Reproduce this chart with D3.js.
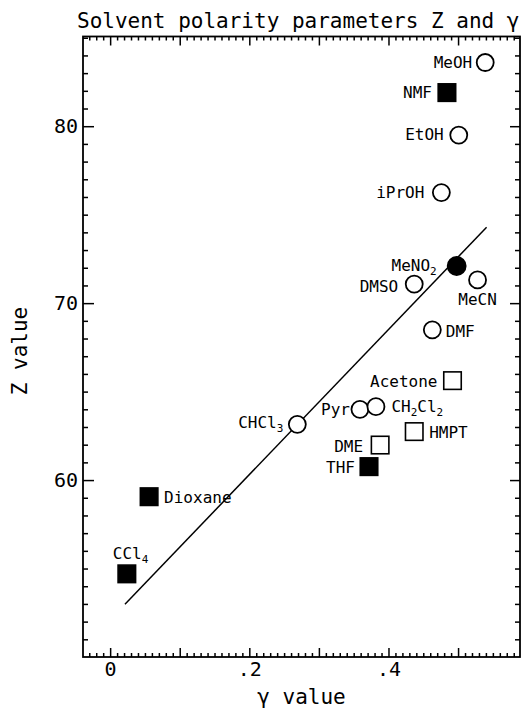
<!DOCTYPE html>
<html>
<head>
<meta charset="utf-8">
<script src="https://cdn.jsdelivr.net/npm/d3@7"></script>
<style>
  html, body { margin: 0; padding: 0; background: #fff; }
  svg { display: block; }
  text { font-family: "DejaVu Sans Mono", "Liberation Mono", monospace; fill: #000; }
</style>
</head>
<body>
<script>
// ---- data ----
const solvents = ["MeOH","NMF","EtOH","iPrOH","MeNO2","DMSO","MeCN","DMF","Acetone","Pyr","CH2Cl2","HMPT","DME","THF","CHCl3","Dioxane","CCl4"];
const labelText = ["MeOH","NMF","EtOH","iPrOH","MeNO_2","DMSO","MeCN","DMF","Acetone","Pyr","CH_2Cl_2","HMPT","DME","THF","CHCl_3","Dioxane","CCl_4"];
const gammaValues = [0.539,0.484,0.501,0.476,0.498,0.437,0.528,0.463,0.492,0.359,0.382,0.437,0.388,0.372,0.269,0.056,0.024];
const zValues     = [83.6, 81.9, 79.5, 76.25,72.1, 71.08,71.31,68.49,65.62,64.0, 64.15,62.74,61.98,60.76,63.15,59.06,54.7];
const symbols     = ["openCircle","filledSquare","openCircle","openCircle","filledCircle","openCircle","openCircle","openCircle","openSquare","openCircle","openCircle","openSquare","openSquare","filledSquare","openCircle","filledSquare","filledSquare"];
const fitGamma = [0.0213, 0.541];
const fitZ     = [52.98, 74.29];
const xMajorTicks = [0, 0.1, 0.2, 0.3, 0.4, 0.5];
const xTickLabels = [0, 0.2, 0.4];
const yMajorTicks = [60, 70, 80];
const yTickLabels = [60, 70, 80];
const titleText = "Solvent polarity parameters Z and \u03b3";
const xAxisTitle = "\u03b3 value";
const yAxisTitle = "Z value";

// ---- layout ----
const W = 522, H = 709;
const plot = { left: 83, right: 520, top: 36.5, bottom: 657 };
// label placement: [dx, dy, anchor]
const labelLayout = {
  MeOH: [-13, 5, "end"], NMF: [-15, 5.5, "end"], EtOH: [-15, 5, "end"], iPrOH: [-17, 5.5, "end"],
  MeNO2: [-20, 5.5, "end"], DMSO: [-16, 7.5, "end"], MeCN: [0, 25, "middle"], DMF: [13.5, 7, "start"],
  Acetone: [-15, 6, "end"], Pyr: [-10, 5.5, "end"], CH2Cl2: [15.5, 5, "start"], HMPT: [15, 6.5, "start"],
  DME: [-17, 6.5, "end"], THF: [-14, 6.5, "end"], CHCl3: [-14, 4, "end"], Dioxane: [15, 6, "start"],
  CCl4: [-14, -15, "start"]
};

const svg = d3.select("body").append("svg").attr("width", W).attr("height", H);
svg.append("rect").attr("width", W).attr("height", H).attr("fill", "#fff");

const x = d3.scaleLinear().domain([-0.039, 0.589]).range([plot.left, plot.right]);
const y = d3.scaleLinear().domain([50, 85.07]).range([plot.bottom, plot.top]);

const xMinor = d3.range(-3, 59).map(i => i / 100).filter(v => !xMajorTicks.some(m => Math.abs(m - v) < 1e-9));
const yMinor = d3.range(51, 86).filter(v => v % 10 !== 0 && v <= 85);

const fmtX = d => d === 0 ? "0" : d3.format(".1f")(d).replace(/^0/, "");

function styleAxis(g) {
  g.select(".domain").remove();
  g.selectAll(".tick line").attr("stroke", "#000").attr("stroke-width", 1.5);
  g.selectAll(".tick text").style("font-family", "'DejaVu Sans Mono', monospace").style("font-size", "20px").attr("fill", "#000");
}

// bottom axis
svg.append("g").attr("transform", `translate(0,${plot.bottom})`)
  .call(d3.axisBottom(x).tickValues(xMinor).tickSize(-4).tickFormat("")).call(styleAxis);
svg.append("g").attr("transform", `translate(0,${plot.bottom})`)
  .call(d3.axisBottom(x).tickValues(xMajorTicks).tickSize(-9).tickPadding(5)
    .tickFormat(d => xTickLabels.includes(d) ? fmtX(d) : "")).call(styleAxis);
// top axis
svg.append("g").attr("transform", `translate(0,${plot.top})`)
  .call(d3.axisTop(x).tickValues(xMinor).tickSize(-4).tickFormat("")).call(styleAxis);
svg.append("g").attr("transform", `translate(0,${plot.top})`)
  .call(d3.axisTop(x).tickValues(xMajorTicks).tickSize(-9).tickFormat("")).call(styleAxis);
// left axis
svg.append("g").attr("transform", `translate(${plot.left},0)`)
  .call(d3.axisLeft(y).tickValues(yMinor).tickSize(-5).tickFormat("")).call(styleAxis);
svg.append("g").attr("transform", `translate(${plot.left},0)`)
  .call(d3.axisLeft(y).tickValues(yMajorTicks).tickSize(-11).tickPadding(5)
    .tickFormat(d => yTickLabels.includes(d) ? String(d) : "")).call(styleAxis);
// right axis
svg.append("g").attr("transform", `translate(${plot.right},0)`)
  .call(d3.axisRight(y).tickValues(yMinor).tickSize(-5).tickFormat("")).call(styleAxis);
svg.append("g").attr("transform", `translate(${plot.right},0)`)
  .call(d3.axisRight(y).tickValues(yMajorTicks).tickSize(-10).tickFormat("")).call(styleAxis);

// frame
svg.append("rect")
  .attr("x", plot.left).attr("y", plot.top)
  .attr("width", plot.right - plot.left).attr("height", plot.bottom - plot.top)
  .attr("fill", "none").attr("stroke", "#000").attr("stroke-width", 1.8);

// fit line
svg.append("line")
  .attr("x1", x(fitGamma[0])).attr("y1", y(fitZ[0]))
  .attr("x2", x(fitGamma[1])).attr("y2", y(fitZ[1]))
  .attr("stroke", "#000").attr("stroke-width", 1.5);

// points
const pts = solvents.map((s, i) => ({ name: s, label: labelText[i], g: gammaValues[i], z: zValues[i], sym: symbols[i] }));
const R = 9, S = 17.5;
const mk = svg.append("g");
pts.forEach(p => {
  const cx = x(p.g), cy = y(p.z);
  if (p.sym.endsWith("Circle")) {
    mk.append("circle").attr("cx", cx).attr("cy", cy).attr("r", p.sym === "filledCircle" ? 9 : R - 0.5)
      .attr("fill", p.sym === "filledCircle" ? "#000" : "#fff")
      .attr("stroke", "#000").attr("stroke-width", 1.8);
  } else {
    mk.append("rect").attr("x", cx - S / 2).attr("y", cy - S / 2).attr("width", S).attr("height", S)
      .attr("fill", p.sym === "filledSquare" ? "#000" : "#fff")
      .attr("stroke", "#000").attr("stroke-width", 1.6);
  }
});

// labels
pts.forEach(p => {
  const [dx, dy, anchor] = labelLayout[p.name];
  const t = svg.append("text").attr("x", x(p.g) + dx).attr("y", y(p.z) + dy)
    .attr("text-anchor", anchor).style("font-size", "16px");
  const parts = p.label.split(/(_\d)/).filter(s => s.length);
  let shifted = false;
  parts.forEach(part => {
    if (part.startsWith("_")) {
      t.append("tspan").text(part.slice(1)).style("font-size", "11px").attr("dy", 4);
      shifted = true;
    } else {
      const ts = t.append("tspan").text(part);
      if (shifted) { ts.attr("dy", -4); shifted = false; }
    }
  });
});

// titles
svg.append("text").attr("x", 77).attr("y", 28).style("font-size", "21px").text(titleText);
svg.append("text").attr("x", (plot.left + plot.right) / 2).attr("y", 704)
  .attr("text-anchor", "middle").style("font-size", "21px").text(xAxisTitle);
svg.append("text").attr("transform", "translate(27,351) rotate(-90)")
  .attr("text-anchor", "middle").style("font-size", "21px").text(yAxisTitle);
</script>
</body>
</html>
